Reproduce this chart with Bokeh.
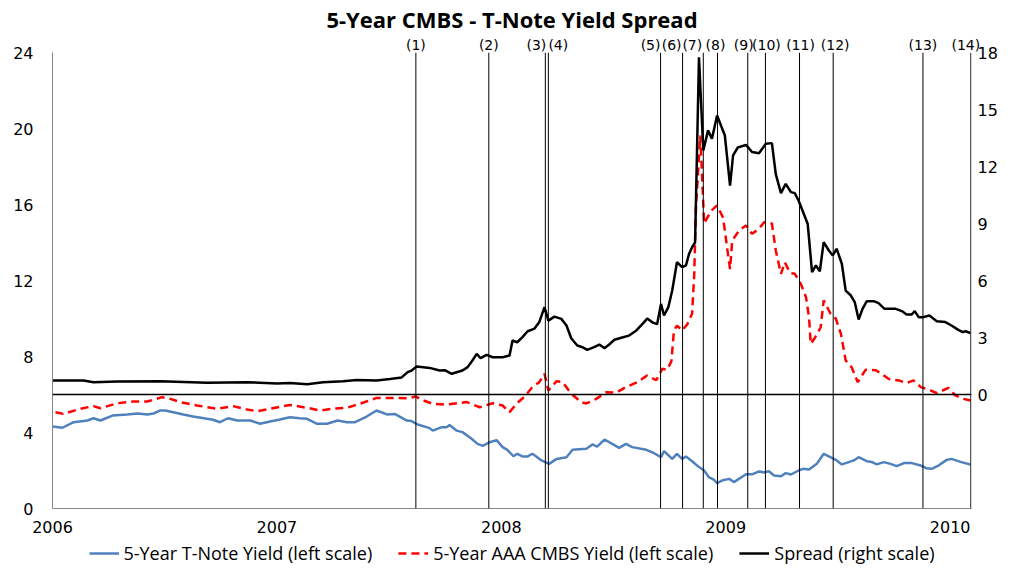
from bokeh.plotting import figure
from bokeh.layouts import column
from bokeh.models import (Range1d, LinearAxis, FixedTicker, NumeralTickFormatter,
                          CustomJSTickFormatter, Span, Legend, LegendItem)
from bokeh.embed import file_html
from bokeh.resources import INLINE

# ---------------- data (x = weeks since start of 2006) ----------------
start_year = 2006
weeks_per_year = 52.0
year_ticks = [2006, 2007, 2008, 2009, 2010]
left_ticks = [0, 4, 8, 12, 16, 20, 24]
right_ticks = [0, 3, 6, 9, 12, 15, 18]

tnote_wk = [0, 2.3, 4.9, 8.1, 9.5, 11.1, 13.9, 17.3, 19.7, 22.0,
            23.4, 25.0, 26.1, 28.0, 30.3, 32.6, 35.8, 37.2, 38.8, 40.7,
            42.8, 45.8, 48.1, 50.4, 52.7, 55.0, 57.3, 59.0, 61.3, 63.6,
            66.1, 68.2, 70.1, 72.8, 75.1, 77.5, 79.3, 82.1, 83.2, 84.6,
            87.4, 88.1, 90.2, 91.3, 92.0, 93.6, 95.0, 97.1, 98.5, 99.7,
            101.3, 102.9, 104.3, 105.4, 106.8, 107.7, 108.9, 110.1, 111.2, 112.1,
            113.3, 114.7, 115.1, 116.8, 119.1, 120.5, 123.7, 125.1, 126.2, 127.9,
            129.7, 131.3, 132.9, 134.3, 137.6, 139.4, 141.0, 141.7, 143.6, 144.7,
            145.9, 146.8, 148.2, 149.8, 151.0, 152.1, 153.3, 154.0, 155.1, 156.8,
            157.9, 160.7, 162.1, 163.7, 164.9, 166.0, 167.2, 168.8, 169.9, 171.1,
            172.9, 173.9, 175.3, 177.1, 178.7, 179.9, 181.5, 182.9, 184.5, 185.7,
            186.8, 188.7, 189.8, 191.0, 192.6, 194.2, 195.6, 197.3, 199.1, 201.2,
            202.5, 203.7, 205.3, 207.2, 208.3, 210.6, 212.7]
tnote = [4.32, 4.25, 4.54, 4.63, 4.75, 4.63, 4.89, 4.95, 5.0, 4.95,
         5.0, 5.16, 5.16, 5.07, 4.95, 4.84, 4.72, 4.67, 4.54, 4.75,
         4.63, 4.63, 4.46, 4.58, 4.68, 4.8, 4.75, 4.72, 4.46, 4.46,
         4.63, 4.54, 4.54, 4.84, 5.16, 4.95, 4.98, 4.63, 4.6, 4.42,
         4.23, 4.1, 4.28, 4.28, 4.39, 4.1, 4.02, 3.67, 3.4, 3.3,
         3.49, 3.6, 3.23, 3.09, 2.75, 2.88, 2.74, 2.74, 2.88, 2.74,
         2.53, 2.39, 2.35, 2.61, 2.7, 3.09, 3.14, 3.37, 3.26, 3.63,
         3.4, 3.19, 3.4, 3.23, 3.09, 2.91, 2.7, 3.02, 2.61, 2.88,
         2.61, 2.74, 2.49, 2.18, 2.0, 1.65, 1.51, 1.33, 1.47, 1.56,
         1.39, 1.8, 1.8, 1.95, 1.9, 1.96, 1.74, 1.7, 1.86, 1.79,
         2.0, 2.09, 2.05, 2.35, 2.88, 2.74, 2.56, 2.32, 2.44, 2.53,
         2.7, 2.49, 2.45, 2.32, 2.44, 2.35, 2.23, 2.39, 2.39, 2.26,
         2.12, 2.09, 2.26, 2.56, 2.61, 2.44, 2.32]

cmbs_wk = [0.7, 2.5, 6.5, 9.5, 11.1, 15.0, 18.7, 22.0, 25.4, 27.3,
           29.6, 33.5, 38.2, 41.8, 45.1, 47.4, 50.4, 55.0, 59.0, 62.0,
           65.0, 68.2, 71.2, 75.1, 78.8, 82.1, 84.2, 85.8, 88.1, 91.3,
           96.0, 99.0, 102.0, 104.3, 105.9, 107.5, 109.4, 111.2, 112.8, 114.0,
           114.9, 116.8, 118.2, 120.2, 122.5, 123.7, 126.0, 128.3, 130.6, 132.9,
           135.5, 137.8, 139.9, 141.3, 142.4, 143.4, 144.0, 144.7, 145.9, 147.1,
           148.2, 148.7, 149.1, 150.1, 150.5, 151.0, 151.7, 152.8, 154.0, 155.4,
           156.3, 157.0, 157.5, 159.1, 160.7, 162.1, 163.7, 164.9, 166.7, 167.6,
           168.8, 169.7, 170.9, 172.0, 173.4, 174.6, 175.3, 175.7, 176.6, 178.0,
           178.7, 180.3, 181.5, 182.7, 183.8, 185.2, 186.6, 188.4, 190.8, 193.8,
           196.1, 197.9, 199.5, 201.2, 203.5, 204.9, 207.6, 209.2, 211.1, 212.7]
cmbs = [5.07, 4.98, 5.25, 5.39, 5.28, 5.54, 5.63, 5.63, 5.86, 5.77,
        5.6, 5.42, 5.25, 5.39, 5.21, 5.12, 5.25, 5.45, 5.3, 5.16,
        5.25, 5.3, 5.51, 5.82, 5.82, 5.8, 5.89, 5.7, 5.51, 5.47,
        5.6, 5.33, 5.54, 5.42, 5.07, 5.51, 5.89, 6.39, 6.65, 7.09,
        6.21, 6.7, 6.65, 6.04, 5.6, 5.53, 5.77, 6.12, 6.1, 6.39,
        6.65, 7.0, 6.75, 7.35, 7.3, 7.74, 9.37, 9.63, 9.37, 9.7,
        10.25, 12.3, 15.86, 19.63, 17.6, 15.0, 15.3, 15.7, 15.95, 15.3,
        13.75, 12.6, 14.1, 14.63, 14.9, 14.46, 14.72, 15.07, 15.0, 13.58,
        12.35, 12.96, 12.4, 12.35, 11.82, 11.12, 10.07, 8.67, 8.96, 9.54,
        10.95, 10.25, 10.0, 9.19, 7.79, 7.42, 6.65, 7.3, 7.28, 6.82,
        6.74, 6.6, 6.74, 6.39, 6.21, 6.07, 6.35, 5.95, 5.77, 5.68]

spread_wk = [0, 7.2, 9.5, 15.0, 25.0, 35.8, 45.1, 52.0, 55.0, 59.0,
             62.7, 67.3, 70.5, 75.1, 78.2, 80.9, 82.3, 83.2, 84.4, 87.4,
             89.7, 90.9, 92.5, 95.0, 96.2, 97.3, 98.3, 99.2, 100.6, 102.0,
             104.3, 105.9, 106.6, 107.7, 108.9, 110.1, 111.7, 112.8, 114.0, 114.9,
             116.3, 117.9, 119.1, 120.2, 121.6, 122.8, 123.9, 125.5, 126.7, 127.9,
             129.0, 130.2, 132.0, 133.6, 135.3, 137.1, 137.8, 139.0, 140.1, 141.0,
             141.7, 142.7, 143.6, 144.7, 145.9, 146.8, 147.5, 148.2, 148.9, 149.8,
             150.8, 151.9, 152.8, 154.0, 154.9, 155.8, 157.0, 157.7, 158.8, 160.7,
             162.1, 163.7, 165.3, 166.7, 167.6, 168.8, 169.9, 171.1, 172.0, 172.9,
             174.1, 175.0, 176.0, 176.9, 177.8, 178.7, 179.9, 180.8, 181.7, 182.9,
             183.8, 185.0, 185.9, 186.8, 187.7, 188.7, 190.3, 191.4, 192.8, 195.4,
             196.8, 197.9, 199.1, 199.8, 200.7, 201.8, 203.2, 204.9, 206.9, 208.3,
             209.9, 210.9, 211.6, 212.7]
spread = [0.74, 0.74, 0.65, 0.68, 0.7, 0.62, 0.65, 0.58, 0.6, 0.54,
          0.65, 0.7, 0.76, 0.74, 0.82, 0.9, 1.18, 1.26, 1.47, 1.4,
          1.26, 1.28, 1.09, 1.26, 1.44, 1.79, 2.14, 1.91, 2.09, 1.96,
          1.96, 2.05, 2.84, 2.75, 3.02, 3.33, 3.47, 3.81, 4.6, 3.89,
          4.1, 3.98, 3.63, 2.96, 2.58, 2.49, 2.35, 2.49, 2.63, 2.44,
          2.63, 2.88, 3.0, 3.1, 3.37, 3.81, 4.0, 3.8, 3.7, 4.77,
          4.16, 4.6, 5.47, 6.96, 6.7, 6.8, 7.4, 7.75, 8.0, 17.75,
          12.84, 13.9, 13.46, 14.68, 14.16, 13.63, 11.0, 12.58, 13.0, 13.14,
          12.76, 12.7, 13.2, 13.23, 11.6, 10.6, 11.09, 10.65, 10.6, 10.2,
          9.5, 8.97, 6.44, 6.79, 6.48, 8.02, 7.58, 7.32, 7.67, 6.88,
          5.47, 5.21, 4.86, 3.95, 4.51, 4.91, 4.91, 4.81, 4.51, 4.51,
          4.39, 4.21, 4.21, 4.39, 4.07, 4.07, 4.16, 3.86, 3.81, 3.63,
          3.4, 3.28, 3.33, 3.23]

event_wk = [84.2, 101.1, 114.2, 114.9, 140.9, 146.0, 150.8, 154.1,
            161.1, 165.2, 173.1, 180.9, 201.7, 212.8]
event_labels = ["(%d)" % (i + 1) for i in range(14)]
last_wk = 212.95

series_names = ["5-Year T-Note Yield (left scale)",
                "5-Year AAA CMBS Yield (left scale)",
                "Spread (right scale)"]

# layout: horizontal nudges (px) of the event labels to avoid overlap
event_label_dx = [0, 0, -9, 10, -10, -11, -11, -2, -4, 1, 1, 2, 0, -5]


def to_year(weeks):
    return [start_year + w / weeks_per_year for w in weeks]


FONT = "DejaVu Sans"
W = 1000
H_MAIN, H_LEG = 542, 22
BL, BR, BT, BB = 52, 27, 52, 34

STYLES = [dict(line_color="#4F81BD", line_width=2.5),
          dict(line_color="#FF0000", line_width=2.5, line_dash="8 5"),
          dict(line_color="black", line_width=2.5)]

x0 = start_year
x1 = start_year + last_wk / weeks_per_year
px_per_year = (W - BL - BR) / (x1 - x0)

p = figure(width=W, height=H_MAIN, output_backend="svg", toolbar_location=None,
           x_range=Range1d(x0, x1), y_range=Range1d(0, 24),
           min_border_left=BL, min_border_right=BR, min_border_top=BT,
           min_border_bottom=BB)
p.extra_y_ranges = {"right": Range1d(-6, 18)}
p.outline_line_color = None
p.xgrid.visible = False
p.ygrid.visible = False

p.title.text = "5-Year CMBS - T-Note Yield Spread"
p.title.align = "center"
p.title.text_font = "Open Sans"
p.title.text_font_style = "bold"
p.title.text_font_size = "22px"
p.title.text_color = "black"
p.title.standoff = 0


def style_axis(ax, size="16px"):
    ax.major_tick_line_color = None
    ax.minor_tick_line_color = None
    ax.major_tick_out = 0
    ax.major_tick_in = 0
    ax.minor_tick_out = 0
    ax.major_label_text_font = FONT
    ax.major_label_text_font_size = size
    ax.major_label_text_color = "black"


for ax in (p.xaxis[0], p.yaxis[0]):
    style_axis(ax)
    ax.axis_line_color = "#868686"
    ax.axis_line_width = 1
p.xaxis.ticker = FixedTicker(ticks=year_ticks)
p.xaxis.formatter = NumeralTickFormatter(format="0")
p.xaxis.major_label_standoff = 12
p.yaxis.ticker = FixedTicker(ticks=left_ticks)
p.yaxis.major_label_standoff = 19

right = LinearAxis(y_range_name="right", ticker=FixedTicker(ticks=right_ticks))
style_axis(right)
right.axis_line_color = None
right.major_label_standoff = 6
p.add_layout(right, "right")

# event labels drawn as an axis above the frame
ev_pos = [y + dx / px_per_year for y, dx in zip(to_year(event_wk), event_label_dx)]
top = LinearAxis(ticker=FixedTicker(ticks=ev_pos),
                 formatter=CustomJSTickFormatter(args=dict(pos=ev_pos, labs=event_labels), code="""
                     let b = 0;
                     for (let j = 0; j < pos.length; j++) {
                         if (Math.abs(pos[j] - tick) < Math.abs(pos[b] - tick)) b = j;
                     }
                     return labs[b];
                 """))
style_axis(top, "14px")
top.axis_line_color = None
top.major_label_standoff = 0
p.add_layout(top, "above")

# event lines
for x in to_year(event_wk):
    p.add_layout(Span(location=x, dimension="height", line_color="black", line_width=1))
# zero line of the spread scale
p.add_layout(Span(location=0, dimension="width", y_range_name="right",
                  line_color="black", line_width=1.3))

p.line(to_year(tnote_wk), tnote, **STYLES[0])
p.line(to_year(cmbs_wk), cmbs, **STYLES[1])
p.line(to_year(spread_wk), spread, y_range_name="right", **STYLES[2])

# legend strip under the chart (placeholder renderers sit outside its range)
leg = figure(width=W, height=H_LEG, output_backend="svg", toolbar_location=None,
             x_range=Range1d(0, 1), y_range=Range1d(0, 1),
             x_axis_location=None, y_axis_location=None,
             min_border_left=32, min_border_right=0, min_border_top=0, min_border_bottom=0)
leg.outline_line_color = None
leg.xgrid.visible = False
leg.ygrid.visible = False
items = []
for name, st in zip(series_names, STYLES):
    r = leg.line([5, 6], [5, 6], **st)
    items.append(LegendItem(label=name, renderers=[r]))
legend = Legend(items=items, orientation="horizontal", location="center",
                border_line_color=None, background_fill_alpha=0,
                padding=0, margin=0, spacing=26, glyph_width=30, glyph_height=18,
                label_height=18, label_standoff=5, label_text_color="black",
                label_text_font="Open Sans", label_text_font_size="18px")
leg.add_layout(legend)

open("out.html", "w").write(file_html(column(p, leg, spacing=0), INLINE))
